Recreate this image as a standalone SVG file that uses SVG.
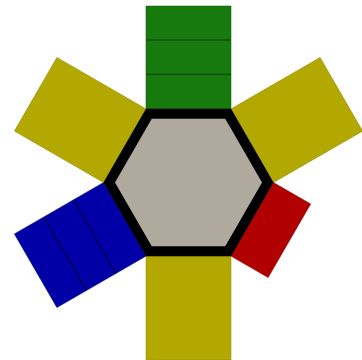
<svg xmlns="http://www.w3.org/2000/svg" width="362" height="360" viewBox="0 0 362 360">
  <style>
    .yellow { fill: #b3a800; stroke: #8f8600; stroke-width: 0.5; }
    .green { fill: #177a0c; stroke: #0f5a08; stroke-width: 0.5; }
    .blue { fill: #0000a6; stroke: #000070; stroke-width: 0.5; }
    .red { fill: #b00000; stroke: #800000; stroke-width: 0.5; }
    .divider-green { stroke: #0a3f05; stroke-width: 1; fill: none; }
    .divider-blue { stroke: #000030; stroke-width: 1; fill: none; }
    .hex { fill: #b0a99d; stroke: #000000; stroke-width: 10; stroke-linejoin: miter; }
  </style>
  <g id="slab-top" transform="rotate(0 188.5 182.5)">
    <rect class="green" x="146" y="6" width="85" height="103"/>
    <line class="divider-green" x1="146" y1="40" x2="231" y2="40"/>
    <line class="divider-green" x1="146" y1="74.3" x2="231" y2="74.3"/>
  </g>
  <g id="slab-upper-right" transform="rotate(60 188.5 182.5)">
    <rect class="yellow" x="146" y="6" width="85" height="103"/>
  </g>
  <g id="slab-lower-right" transform="rotate(120 188.5 182.5)">
    <rect class="red" x="146" y="66" width="85" height="43"/>
  </g>
  <g id="slab-bottom" transform="rotate(180 188.5 182.5)">
    <rect class="yellow" x="146" y="5" width="85" height="104"/>
  </g>
  <g id="slab-lower-left" transform="rotate(240 188.5 182.5)">
    <rect class="blue" x="146" y="6" width="85" height="103"/>
    <line class="divider-blue" x1="146" y1="40" x2="231" y2="40"/>
    <line class="divider-blue" x1="146" y1="74.3" x2="231" y2="74.3"/>
  </g>
  <g id="slab-upper-left" transform="rotate(300 188.5 182.5)">
    <rect class="yellow" x="146" y="6" width="85" height="103"/>
  </g>
  <g id="hexagon">
    <polygon class="hex" points="267.8,182.5 228.15,251.18 148.85,251.18 109.2,182.5 148.85,113.82 228.15,113.82"/>
  </g>
</svg>
